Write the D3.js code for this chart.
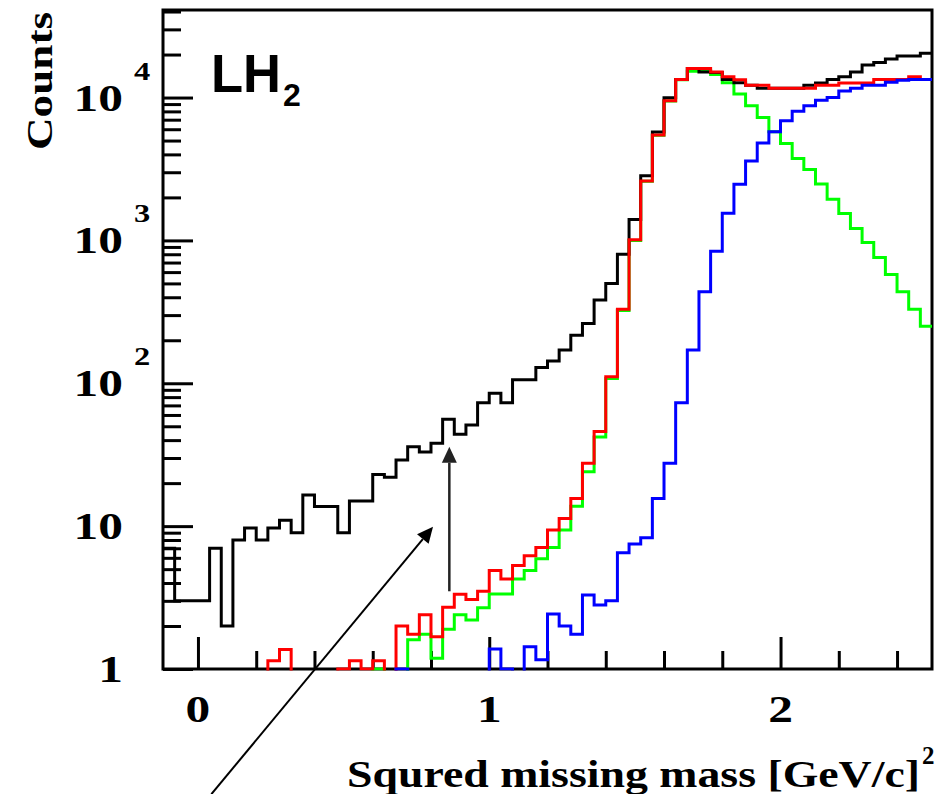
<!DOCTYPE html>
<html>
<head>
<meta charset="utf-8">
<script src="https://cdn.jsdelivr.net/npm/d3@7"></script>
<style>
  body { margin: 0; background: #fff; }
  #chart svg { display: block; background: #fff; }
  .lbl { font-family: "Liberation Serif", "DejaVu Serif", serif; font-weight: bold; fill: #000; }
  .tag { font-family: "Liberation Sans", Arial, sans-serif; font-weight: bold; fill: #000; }
  .axis line { stroke: #000; stroke-width: 3; }
</style>
</head>
<body>
<div id="chart"></div>
<script>
var app = app || {};

// histogram binning (GeV/c)^2
var binLow = -0.12,
    binWidth = 0.04;

// counts per bin, 66 bins from -0.12 to 2.52
var dataCounts = [
  7, 3, 3, 3, 7, 2, 8, 9.7, 8, 9.7,
  11, 9, 16.5, 13.7, 13.7, 9, 15, 15, 23, 22,
  29, 36, 33, 38, 56, 44, 51, 73, 85, 73,
  106, 106, 129, 143, 171, 217, 262, 382, 500, 800,
  1400, 2830, 5730, 9950, 13400, 16000, 15100, 15000, 13400, 12700,
  12200, 11600, 11600, 11600, 11600, 12200, 12650, 13400, 14000, 15100,
  16900, 17600, 18600, 19500, 19500, 20400
];

var sumCounts = [
  0, 0, 0, 0, 0, 0, 0, 0, 0, 1.14,
  1.37, 0, 0, 0, 0, 1, 1.14, 1, 1.14, 0,
  2.0, 1.75, 2.4, 1.68, 2.7, 3.33, 3.07, 3.5, 4.9, 4.27,
  5.3, 6.2, 7.1, 9.4, 11.3, 15.6, 27.5, 46, 111, 330,
  1010, 2600, 5460, 9480, 13400, 16000, 16000, 15100, 14000, 13300,
  12200, 12200, 11600, 11600, 11600, 11600, 12200, 12200, 12650, 12650,
  12650, 13400, 13400, 13400, 14000, 13400
];

var greenCounts = [
  0, 0, 0, 0, 0, 0, 0, 0, 0, 0,
  0, 0, 0, 0, 0, 0, 0, 0, 1, 0,
  0, 1.6, 1.75, 1.19, 1.9, 2.4, 2.2, 2.68, 3.35, 3.35,
  4.27, 4.9, 5.9, 7.1, 9.4, 13.8, 24, 42, 108, 323,
  1000, 2590, 5440, 9450, 13300, 15300, 15500, 14500, 12700, 10600,
  8750, 7260, 5760, 4770, 3750, 3140, 2480, 1945, 1545, 1213,
  968, 760, 578, 437, 330, 251
];

var blueCounts = [
  0, 0, 0, 0, 0, 0, 0, 0, 0, 0,
  0, 0, 0, 0, 0, 0, 0, 0, 0, 0,
  1, 0, 0, 0, 0, 0, 0, 0, 1.38, 1,
  0, 1.43, 1.16, 2.43, 2.0, 1.75, 3.3, 2.8, 3.0, 6.5,
  7.5, 8.3, 15.6, 27.5, 73, 171, 437, 840, 1550, 2470,
  3600, 4800, 5760, 6870, 8030, 8750, 9590, 10000, 11100, 11600,
  12200, 12200, 12800, 13200, 13400, 13400
];

var xMajorTicks = [0, 1, 2];
var xMinorTicks = [0.2, 0.4, 0.6, 0.8, 1.2, 1.4, 1.6, 1.8, 2.2, 2.4];
var xTickLabels = ['0', '1', '2'];

var yMajorTicks = [1, 10, 100, 1000, 10000];
var yMinorTicks = [2, 3, 4, 5, 6, 7, 8, 9,
  20, 30, 40, 50, 60, 70, 80, 90,
  200, 300, 400, 500, 600, 700, 800, 900,
  2000, 3000, 4000, 5000, 6000, 7000, 8000, 9000,
  20000, 30000, 40000];
var yTickBase = ['1', '10', '10', '10', '10'];
var yTickExp = ['', '', '2', '3', '4'];

app.run = function() {
  // Dimensions
  var width = 948,
      height = 794,
      left = 163,
      right = 932,
      top = 10,
      bottom = 669;

  var svg = d3.select("#chart")
    .append("svg")
      .attr("width", width)
      .attr("height", height);

  var x = d3.scaleLinear()
    .domain([binLow, binLow + binWidth * dataCounts.length])
    .range([left, right]);

  var y = d3.scaleLog()
    .domain([1, 41000])
    .range([bottom, top]);

  // Frame
  svg.append("rect")
    .attr("x", left)
    .attr("y", top)
    .attr("width", right - left)
    .attr("height", bottom - top)
    .attr("fill", "none")
    .attr("stroke", "#000")
    .attr("stroke-width", 3);

  // Ticks, drawn inside the frame
  var addAxis = function(axis, tr) {
    svg.append("g")
      .attr("class", "axis")
      .attr("transform", tr)
      .call(axis)
      .call(function(g) { g.select(".domain").remove(); });
  };
  addAxis(d3.axisBottom(x).tickValues(xMajorTicks).tickSizeInner(-32).tickSizeOuter(0).tickFormat(""),
    "translate(0," + bottom + ")");
  addAxis(d3.axisBottom(x).tickValues(xMinorTicks).tickSizeInner(-18).tickSizeOuter(0).tickFormat(""),
    "translate(0," + bottom + ")");
  addAxis(d3.axisLeft(y).tickValues(yMajorTicks).tickSizeInner(-30).tickSizeOuter(0).tickFormat(""),
    "translate(" + left + ",0)");
  addAxis(d3.axisLeft(y).tickValues(yMinorTicks).tickSizeInner(-18).tickSizeOuter(0).tickFormat(""),
    "translate(" + left + ",0)");

  // Tick labels
  yMajorTicks.forEach(function(v, i) {
    svg.append("text")
      .attr("class", "lbl")
      .attr("transform", "translate(123," + (y(v) + 13) + ") scale(1.3,1)")
      .attr("text-anchor", "end")
      .style("font-size", "38px")
      .text(yTickBase[i]);
    if (yTickExp[i]) {
      svg.append("text")
        .attr("class", "lbl")
        .attr("transform", "translate(134," + (y(v) - 18) + ") scale(1.3,1)")
        .style("font-size", "25px")
        .text(yTickExp[i]);
    }
  });

  xMajorTicks.forEach(function(v, i) {
    svg.append("text")
      .attr("class", "lbl")
      .attr("transform", "translate(" + x(v) + ",722) scale(1.3,1)")
      .attr("text-anchor", "middle")
      .style("font-size", "38px")
      .text(xTickLabels[i]);
  });

  // Axis titles
  svg.append("text")
    .attr("class", "lbl")
    .attr("transform", "translate(52,81) rotate(-90)")
    .attr("text-anchor", "middle")
    .attr("textLength", 138)
    .attr("lengthAdjust", "spacingAndGlyphs")
    .style("font-size", "36px")
    .text("Counts");

  svg.append("text")
    .attr("class", "lbl")
    .attr("x", 347)
    .attr("y", 787)
    .attr("textLength", 573)
    .attr("lengthAdjust", "spacingAndGlyphs")
    .style("font-size", "38px")
    .text("Squred missing mass [GeV/c]");
  svg.append("text")
    .attr("class", "lbl")
    .attr("x", 922)
    .attr("y", 764)
    .style("font-size", "25px")
    .text("2");

  // Target label
  svg.append("text")
    .attr("class", "tag")
    .attr("x", 211)
    .attr("y", 92)
    .attr("textLength", 70)
    .attr("lengthAdjust", "spacingAndGlyphs")
    .style("font-size", "54px")
    .text("LH");
  svg.append("text")
    .attr("class", "tag")
    .attr("x", 283)
    .attr("y", 106)
    .style("font-size", "32px")
    .text("2");

  // Histograms
  svg.append("clipPath")
    .attr("id", "frame")
    .append("rect")
      .attr("x", left)
      .attr("y", top)
      .attr("width", right - left)
      .attr("height", bottom - top + 1.5);

  var line = d3.line()
    .curve(d3.curveStepAfter)
    .x(function(d) { return x(d[0]); })
    .y(function(d) { return y(Math.max(d[1], 0.5)); });

  var toPoints = function(counts) {
    var pts = counts.map(function(c, i) { return [binLow + i * binWidth, c]; });
    pts.push([binLow + counts.length * binWidth, counts[counts.length - 1]]);
    return pts;
  };

  var hists = [
    { counts: greenCounts, color: "#00ff00" },
    { counts: dataCounts, color: "#000000" },
    { counts: sumCounts, color: "#ff0000" },
    { counts: blueCounts, color: "#0000ff" }
  ];

  svg.append("g")
    .attr("clip-path", "url(#frame)")
    .selectAll("path")
    .data(hists)
    .enter().append("path")
      .attr("d", function(d) { return line(toPoints(d.counts)); })
      .attr("fill", "none")
      .attr("stroke", function(d) { return d.color; })
      .attr("stroke-width", 3);

  // Arrows (placed in data coordinates)
  var arrow = function(x1, v1, x2, v2, color, w) {
    var ax = x(x1), ay = y(v1), bx = x(x2), by = y(v2);
    var dx = bx - ax, dy = by - ay, len = Math.sqrt(dx * dx + dy * dy);
    var ux = dx / len, uy = dy / len, hl = 16, hw = 7.5;
    var cx = bx - ux * hl, cy = by - uy * hl;
    svg.append("line")
      .attr("x1", ax).attr("y1", ay)
      .attr("x2", cx).attr("y2", cy)
      .attr("stroke", color)
      .attr("stroke-width", w);
    svg.append("path")
      .attr("d", "M" + bx + "," + by +
        "L" + (cx - uy * hw) + "," + (cy + ux * hw) +
        "L" + (cx + uy * hw) + "," + (cy - ux * hw) + "Z")
      .attr("fill", color);
  };
  arrow(0.863, 3.5, 0.863, 36, "#222", 2.5);
  arrow(0.046, 0.133, 0.807, 9.9, "#000", 2);
};

app.run();
</script>
</body>
</html>
